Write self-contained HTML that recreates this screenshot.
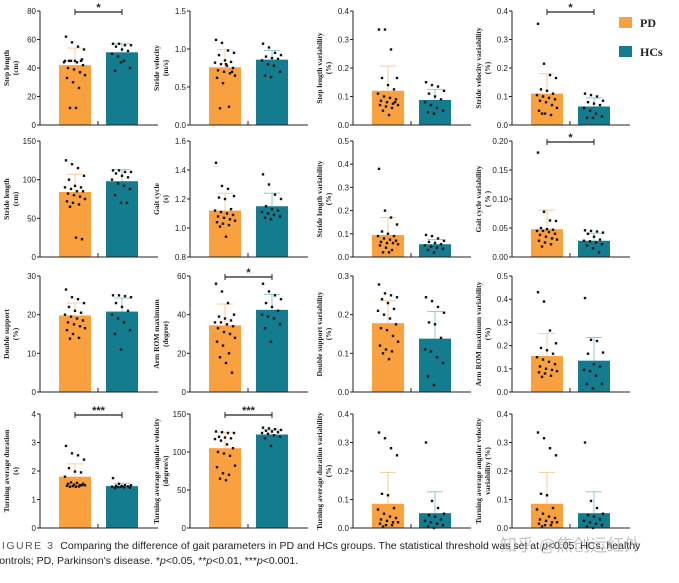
<!DOCTYPE html>
<html><head><meta charset="utf-8">
<style>
body{margin:0;background:#fff;width:679px;height:583px;overflow:hidden;position:relative;font-family:"Liberation Sans",sans-serif}
#cap{position:absolute;left:-6px;top:539px;font-size:10.5px;line-height:15px;color:#222;white-space:nowrap}
#cap .fig{letter-spacing:1.5px;color:#555}
#wm{position:absolute;left:500px;top:531px;font-size:17px;color:rgba(150,150,150,0.55);font-family:"Liberation Sans","Noto Sans CJK SC",sans-serif}
</style></head><body>
<svg id="chart" width="679" height="535" style="position:absolute;left:0;top:0"></svg>
<div id="cap"><span class="fig">FIGURE 3</span>&nbsp;&nbsp;Comparing the difference of gait parameters in PD and HCs groups. The statistical threshold was set at <i>p</i>&lt;0.05. HCs, healthy<br>controls; PD, Parkinson's disease. *<i>p</i>&lt;0.05, **<i>p</i>&lt;0.01, ***<i>p</i>&lt;0.001.</div>
<div id="wm">知乎 @焦创运红外</div>
<script>
const panelNames=["step-length","stride-velocity","step-length-variability","stride-velocity-variability","stride-length","gait-cycle","stride-length-variability","gait-cycle-variability","double-support","arm-rom-maximum","double-support-variability","arm-rom-maximum-variability","turning-average-duration","turning-average-angular-velocity","turning-duration-variability","turning-angular-velocity-variability"];
const yLabels=[["Step length","(cm)"],["Stride velocity","(m/s)"],["Step length variability","(%)"],["Stride velocity variability","(%)"],["Stride length","(cm)"],["Gait cycle","(s)"],["Stride length variability","(%)"],["Gait cycle variability","( % )"],["Double support","(%)"],["Arm ROM maximum","(degree)"],["Double support variability","(%)"],["Arm ROM maximum variability","(%)"],["Turning average duration","(s)"],["Turning average angular velocity","(degree/s)"],["Turning average duration variability","(%)"],["Turning average angular velocity","variability (%)"]];
const yTicks=[["0","20","40","60","80"],["0.0","0.5","1.0","1.5"],["0.0","0.1","0.2","0.3","0.4"],["0.0","0.1","0.2","0.3","0.4"],["0","50","100","150"],["0.8","1.0","1.2","1.4","1.6"],["0.0","0.1","0.2","0.3","0.4","0.5"],["0.00","0.05","0.10","0.15","0.20"],["0","10","20","30"],["0","20","40","60"],["0.0","0.1","0.2","0.3"],["0.0","0.1","0.2","0.3","0.4","0.5"],["0","1","2","3","4"],["0","50","100","150"],["0.0","0.1","0.2","0.3","0.4"],["0.0","0.1","0.2","0.3","0.4"]];
const pdMean=[42,0.76,0.12,0.11,84,1.12,0.095,0.048,19.8,34.5,0.178,0.155,1.8,105,0.085,0.085];
const hcMean=[51,0.86,0.088,0.065,98,1.15,0.055,0.028,20.8,42.5,0.138,0.135,1.47,123,0.052,0.052];
const pdSD=[12,0.23,0.087,0.07,23,0.12,0.075,0.033,3.2,11,0.058,0.097,0.45,21,0.11,0.11];
const hcSD=[6,0.12,0.037,0.03,15,0.09,0.02,0.013,3.5,8,0.07,0.1,0.1,6,0.075,0.075];
const sigLabels=["*","","","*","","","","*","","*","","","***","***","",""];
const pdPoints=[
[62,58,55,53,45,45,45,45,45,44,42,40,39,37,35,33,30,26,12,12,46,44],
[1.12,1.08,0.98,0.95,0.92,0.85,0.83,0.82,0.80,0.78,0.75,0.72,0.70,0.68,0.65,0.62,0.55,0.24,0.22,0.80,0.70],
[0.335,0.335,0.265,0.165,0.165,0.14,0.125,0.11,0.10,0.095,0.09,0.085,0.08,0.075,0.07,0.07,0.065,0.06,0.05,0.035,0.08],
[0.355,0.215,0.175,0.165,0.125,0.12,0.11,0.105,0.10,0.095,0.09,0.085,0.08,0.07,0.06,0.05,0.04,0.035,0.04],
[125,120,115,105,100,92,90,90,88,85,85,82,80,78,75,72,70,68,65,25,23],
[1.45,1.29,1.27,1.22,1.21,1.20,1.13,1.12,1.11,1.10,1.09,1.08,1.07,1.06,1.05,1.04,1.03,1.02,1.01,0.94],
[0.38,0.20,0.17,0.14,0.11,0.10,0.09,0.09,0.08,0.075,0.07,0.065,0.06,0.06,0.055,0.05,0.04,0.03,0.02,0.02],
[0.18,0.078,0.063,0.062,0.05,0.048,0.047,0.045,0.045,0.043,0.04,0.038,0.035,0.032,0.03,0.028,0.025,0.022,0.018],
[26.5,24.5,24,23,22,21,20.5,20,19.5,19,18.5,18,17.5,17,16.5,16,15,14,13.8],
[56,52,46,40,39,38,37,36,36,35,34,33,31,30,28,26,24,20,18,15,10],
[0.278,0.255,0.25,0.245,0.24,0.23,0.215,0.21,0.20,0.19,0.175,0.165,0.16,0.145,0.13,0.12,0.11,0.105,0.10,0.085],
[0.43,0.39,0.265,0.21,0.19,0.18,0.165,0.15,0.14,0.13,0.12,0.11,0.10,0.095,0.09,0.085,0.08,0.07,0.065],
[2.88,2.62,2.55,2.4,2.1,1.98,1.95,1.8,1.6,1.58,1.55,1.55,1.52,1.5,1.5,1.48,1.47,1.46,1.45,1.45,1.5],
[127,126,125,125,120,119,118,117,115,110,105,100,98,95,82,80,72,70,65,63],
[0.335,0.315,0.28,0.255,0.12,0.115,0.07,0.065,0.05,0.04,0.035,0.03,0.025,0.02,0.02,0.015,0.01,0.01,0.005],
[0.335,0.315,0.28,0.255,0.12,0.115,0.07,0.065,0.05,0.04,0.035,0.03,0.025,0.02,0.02,0.015,0.01,0.01,0.005]];
const hcPoints=[
[57,57,56,56,55,53,52,50,48,45,40,38,44],
[1.07,1.02,0.95,0.92,0.90,0.88,0.87,0.85,0.80,0.78,0.70,0.65,0.63],
[0.15,0.14,0.135,0.12,0.11,0.10,0.09,0.08,0.07,0.06,0.05,0.045,0.04],
[0.11,0.105,0.10,0.085,0.08,0.075,0.07,0.06,0.05,0.04,0.03,0.025,0.025],
[112,112,110,110,108,105,103,100,95,92,88,80,70,70],
[1.37,1.30,1.23,1.20,1.15,1.13,1.12,1.11,1.10,1.09,1.08,1.07,1.06],
[0.095,0.09,0.08,0.07,0.065,0.06,0.055,0.05,0.045,0.04,0.035,0.03,0.02],
[0.046,0.045,0.044,0.042,0.04,0.035,0.03,0.028,0.027,0.025,0.022,0.02,0.015,0.008],
[25,25,24.8,24.5,23,22,21,20,19,18,16,15,11],
[56,52,50,48,46,44,42,40,39,38,35,33,26],
[0.245,0.235,0.22,0.205,0.18,0.175,0.14,0.11,0.105,0.09,0.075,0.04,0.018],
[0.405,0.225,0.22,0.17,0.165,0.12,0.11,0.095,0.09,0.07,0.035,0.035,0.015],
[1.75,1.55,1.5,1.5,1.48,1.47,1.46,1.45,1.44,1.43,1.42,1.4,1.45],
[132,131,130,129,128,127,126,125,124,122,120,118,108],
[0.30,0.095,0.07,0.05,0.045,0.04,0.03,0.025,0.02,0.015,0.01,0.005,0.0],
[0.30,0.095,0.07,0.05,0.045,0.04,0.03,0.025,0.02,0.015,0.01,0.005,0.0]];

const NS="http://www.w3.org/2000/svg";
const svg=document.getElementById('chart');
const colX=[40,190,353,512];
const rowY=[[11,125],[141,257],[276,392],[414,528]];
const jit=[-9,-3,3,9,-6,0,6,-10,-4,2,8,-7,-1,5,10,-8,-2,4,-5,1,7,-11];
function mk(tag,attrs,parent){const e=document.createElementNS(NS,tag);for(const k in attrs)e.setAttribute(k,attrs[k]);(parent||svg).appendChild(e);return e;}
for(let p=0;p<16;p++){
  const c=p%4,r=Math.floor(p/4);
  const ax=colX[c],top=rowY[r][0],bot=rowY[r][1];
  const t=yTicks[p].map(Number);const lo=t[0],hi=t[t.length-1];
  const y=v=>bot-(v-lo)/(hi-lo)*(bot-top);
  const g=mk('g',{});
  
  
  const bars=[[ax+19,pdMean[p],pdSD[p],pdPoints[p],'#F9A13F','#f9cc9e','pd'],[ax+66,hcMean[p],hcSD[p],hcPoints[p],'#137C8F','#93c9d2','hc']];
  bars.forEach(b=>{
    const rect=mk('rect',{x:b[0],y:y(b[1]),width:32,height:bot-y(b[1]),fill:b[4]},g);
    
    
    const cx=b[0]+16,ey=y(b[1]+b[2]);
    mk('line',{x1:cx,x2:cx,y1:y(b[1]),y2:ey,stroke:b[5],'stroke-width':1},g);
    mk('line',{x1:cx-8,x2:cx+8,y1:ey,y2:ey,stroke:b[5],'stroke-width':1},g);
    b[3].forEach((v,i)=>{
      const d=mk('rect',{x:cx+jit[i%jit.length]-1.2,y:y(v)-1.2,width:2.4,height:2.4,fill:'#111'},g);
      
      
    });
  });
  mk('line',{x1:ax,x2:ax,y1:top,y2:bot,stroke:'#222','stroke-width':1},g);
  mk('line',{x1:ax,x2:ax+118,y1:bot,y2:bot,stroke:'#222','stroke-width':1},g);
  mk('line',{x1:ax+58,x2:ax+58,y1:bot,y2:bot-4,stroke:'#222','stroke-width':1},g);
  yTicks[p].forEach((lab,i)=>{
    const ty=y(t[i]);
    mk('line',{x1:ax-3,x2:ax,y1:ty,y2:ty,stroke:'#222','stroke-width':1},g);
    const tx=mk('text',{x:ax-4,y:ty+3,'text-anchor':'end','font-size':8,fill:'#222'},g);tx.textContent=lab;
    
    
  });
  const lx=ax-30,ly=(top+bot)/2;
  const tl=mk('text',{transform:`translate(${lx},${ly}) rotate(-90)`,'text-anchor':'middle','font-size':7.5,'font-weight':'bold','font-family':'Liberation Serif, serif',fill:'#222'},g);
  
  
  yLabels[p].forEach((s,i)=>{const ts=mk('tspan',{x:0,dy:i?9:(yLabels[p].length>1?-1:3)},tl);ts.textContent=s;});
  if(sigLabels[p]){
    const sy=top+1;
    mk('line',{x1:ax+35,x2:ax+82,y1:sy,y2:sy,stroke:'#222','stroke-width':1.2},g);
    mk('line',{x1:ax+35,x2:ax+35,y1:sy-3,y2:sy+3,stroke:'#222'},g);
    mk('line',{x1:ax+82,x2:ax+82,y1:sy-3,y2:sy+3,stroke:'#222'},g);
    const st=mk('text',{x:ax+58.5,y:sy-1,'text-anchor':'middle','font-size':11,'font-weight':'bold',fill:'#222'},g);st.textContent=sigLabels[p];
    
    
  }
}
const leg=[['PD','#F9A13F',17],['HCs','#137C8F',46]];
leg.forEach(l=>{
  const g=mk('g',{});
  
  
  mk('rect',{x:619,y:l[2],width:13,height:11,fill:l[1]},g);
  const tx=mk('text',{x:640,y:l[2]+10,'font-size':12,'font-weight':'bold','font-family':'Liberation Serif, serif',fill:'#222'},g);tx.textContent=l[0];
});
</script>
</body></html>
